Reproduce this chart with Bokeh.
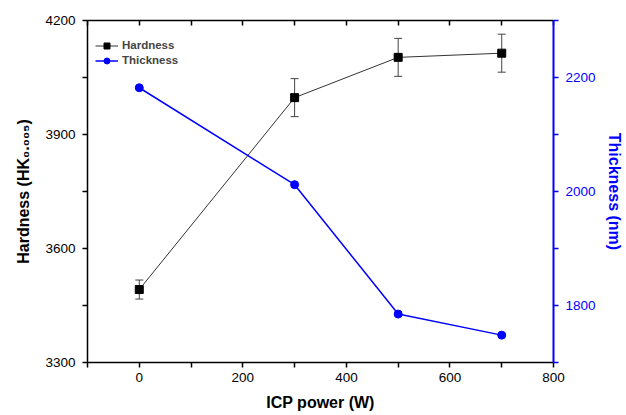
from bokeh.plotting import figure
from bokeh.models import (Range1d, LinearAxis, FixedTicker, ColumnDataSource, Whisker,
                          TeeHead, Legend, LegendItem)
from bokeh.embed import file_html
from bokeh.resources import INLINE

# ---- data ----
power = [0, 300, 500, 700]
hardness = [3492, 3997, 4103, 4114]
hardness_err = [25, 50, 50, 50]
thickness = [2182, 2012, 1785, 1748]

x_major = [0, 200, 400, 600, 800]
x_minor = [-100, 100, 300, 500, 700]
y_major = [3300, 3600, 3900, 4200]
y_minor = [3450, 3750, 4050]
y2_major = [1800, 2000, 2200]
y2_minor = [1700, 1900, 2100, 2300]

FONT = "Liberation Sans"
BLUE = "#0000ff"

p = figure(width=626, height=415, output_backend="svg", toolbar_location=None,
           x_range=Range1d(-100, 800), y_range=Range1d(3300, 4200),
           min_border_left=87, min_border_right=73, min_border_top=20, min_border_bottom=53)
p.extra_y_ranges = {"thick": Range1d(1700, 2300)}
p.outline_line_color = None
p.xgrid.visible = False
p.ygrid.visible = False


def style(ax, color, ticks, minor, out=5, inn=0, standoff=6):
    ax.ticker = FixedTicker(ticks=ticks, minor_ticks=minor)
    ax.axis_line_color = color
    ax.axis_line_width = 1.5
    ax.major_tick_line_color = color
    ax.minor_tick_line_color = color
    ax.major_tick_line_width = 1.5
    ax.minor_tick_line_width = 1.5
    ax.major_tick_out = out
    ax.major_tick_in = inn
    ax.minor_tick_out = out
    ax.minor_tick_in = inn
    ax.major_label_text_font = FONT
    ax.major_label_text_font_size = "13.5px"
    ax.major_label_text_color = color
    ax.major_label_standoff = standoff
    ax.axis_label_text_font = FONT
    ax.axis_label_text_font_style = "bold"
    ax.axis_label_text_font_size = "16px"
    ax.axis_label_text_color = color


xa = p.xaxis[0]
style(xa, "black", x_major, x_minor, standoff=5)
xa.axis_label = "ICP power (W)"
xa.axis_label_standoff = 9

ya = p.yaxis[0]
style(ya, "black", y_major, y_minor, standoff=7)
ya.axis_label = "Hardness (HK\u2080.\u2080\u2080\u2085)"
ya.axis_label_standoff = 10

# top frame edge: inward ticks only (minor ticks, so no labels)
top = LinearAxis()
style(top, "black", [], x_major + x_minor, out=0, inn=5)
top.major_label_standoff = 0
p.add_layout(top, "above")

right = LinearAxis(y_range_name="thick")
style(right, BLUE, y2_major, y2_minor, standoff=7)
right.axis_line_width = 2
right.axis_label = "Thickness (nm)"
right.axis_label_standoff = 7
p.add_layout(right, "right")

src = ColumnDataSource(dict(
    power=power, hardness=hardness,
    upper=[h + e for h, e in zip(hardness, hardness_err)],
    lower=[h - e for h, e in zip(hardness, hardness_err)],
    thickness=thickness))

hl = p.line("power", "hardness", source=src, line_color="#333333", line_width=1)
w = Whisker(source=src, base="power", upper="upper", lower="lower",
            line_color="#444444", line_width=1,
            upper_head=TeeHead(size=8, line_color="#444444", line_width=1),
            lower_head=TeeHead(size=8, line_color="#444444", line_width=1))
p.add_layout(w)
hs = p.scatter("power", "hardness", source=src, marker="square", size=8,
               fill_color="black", line_color="black")
tl = p.line("power", "thickness", source=src, y_range_name="thick",
            line_color=BLUE, line_width=1.5)
ts = p.scatter("power", "thickness", source=src, y_range_name="thick",
               marker="circle", size=8, fill_color=BLUE, line_color=BLUE)

leg = Legend(items=[LegendItem(label="Hardness", renderers=[hl, hs]),
                    LegendItem(label="Thickness", renderers=[tl, ts])],
             location=(8, 294.5), margin=0, padding=0, spacing=0,
             glyph_width=23, glyph_height=15, label_height=15, label_standoff=4,
             label_text_font=FONT, label_text_font_style="bold",
             label_text_font_size="11.5px", border_line_color=None,
             background_fill_alpha=0)
p.add_layout(leg)

open("out.html", "w").write(file_html(p, INLINE))
